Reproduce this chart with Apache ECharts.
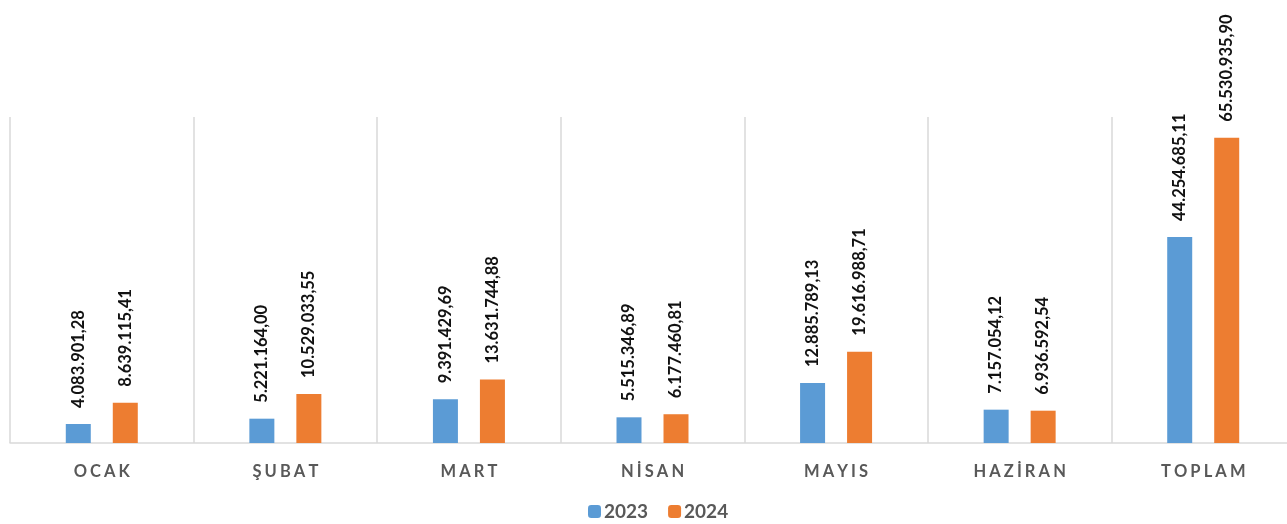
<!DOCTYPE html>
<html><head><meta charset="utf-8">
<script src="https://cdn.jsdelivr.net/npm/echarts@6/dist/echarts.min.js"></script>
<style>html,body{margin:0;padding:0;background:#fff}#c{width:1287px;height:524px}</style>
</head><body><div id="c"></div>
<script>
const categories = ['OCAK', 'ŞUBAT', 'MART', 'NİSAN', 'MAYIS', 'HAZİRAN', 'TOPLAM'];
const values2023 = [4083901.28, 5221164.00, 9391429.69, 5515346.89, 12885789.13, 7157054.12, 44254685.11];
const values2024 = [8639115.41, 10529033.55, 13631744.88, 6177460.81, 19616988.71, 6936592.54, 65530935.90];
const seriesNames = ['2023', '2024'];

function fmt(v) {
  const s = v.toFixed(2).split('.');
  const int = s[0].replace(/\B(?=(\d{3})+(?!\d))/g, '.');
  return int + ',' + s[1];
}
const font = 'Lato, "Open Sans", "Liberation Sans", sans-serif';
const labelCfg = {
  show: true, position: 'top', rotate: 90, align: 'left', verticalAlign: 'middle',
  distance: 16, fontFamily: font, fontWeight: 'bold', fontSize: 16.5, color: '#111',
  formatter: p => fmt(p.value)
};
const chart = echarts.init(document.getElementById('c'));
chart.setOption({
  animation: false,
  grid: { left: 10, top: 117, width: 1285, bottom: 81, containLabel: false, outerBoundsMode: 'none' },
  legend: {
    top: 497, left: 583, itemWidth: 13, itemHeight: 13, itemGap: 20, itemPadding: 0,
    textStyle: { fontFamily: font, fontWeight: 'bold', fontSize: 19, color: '#595959', padding: [0, 0, 0, -2] },
    data: seriesNames
  },
  xAxis: {
    type: 'category', data: categories, boundaryGap: true,
    axisLine: { lineStyle: { color: '#d9d9d9', width: 1.5 } },
    axisTick: { show: false },
    splitLine: { show: true, lineStyle: { color: '#d9d9d9', width: 1.5 } },
    axisLabel: {
      margin: 20, fontFamily: font, fontWeight: 'bold', fontSize: 16.5, color: '#595959',
      formatter: v => v.split('').join('\u2009\u200A')
    }
  },
  yAxis: { type: 'value', min: 0, max: 70000000, show: false, splitLine: { show: false } },
  series: [
    { name: seriesNames[0], type: 'bar', data: values2023, barWidth: 25, barGap: '88%',
      itemStyle: { color: '#5b9bd5' }, label: labelCfg },
    { name: seriesNames[1], type: 'bar', data: values2024, barWidth: 25, barGap: '88%',
      itemStyle: { color: '#ed7d31' }, label: labelCfg }
  ]
});
</script></body></html>
